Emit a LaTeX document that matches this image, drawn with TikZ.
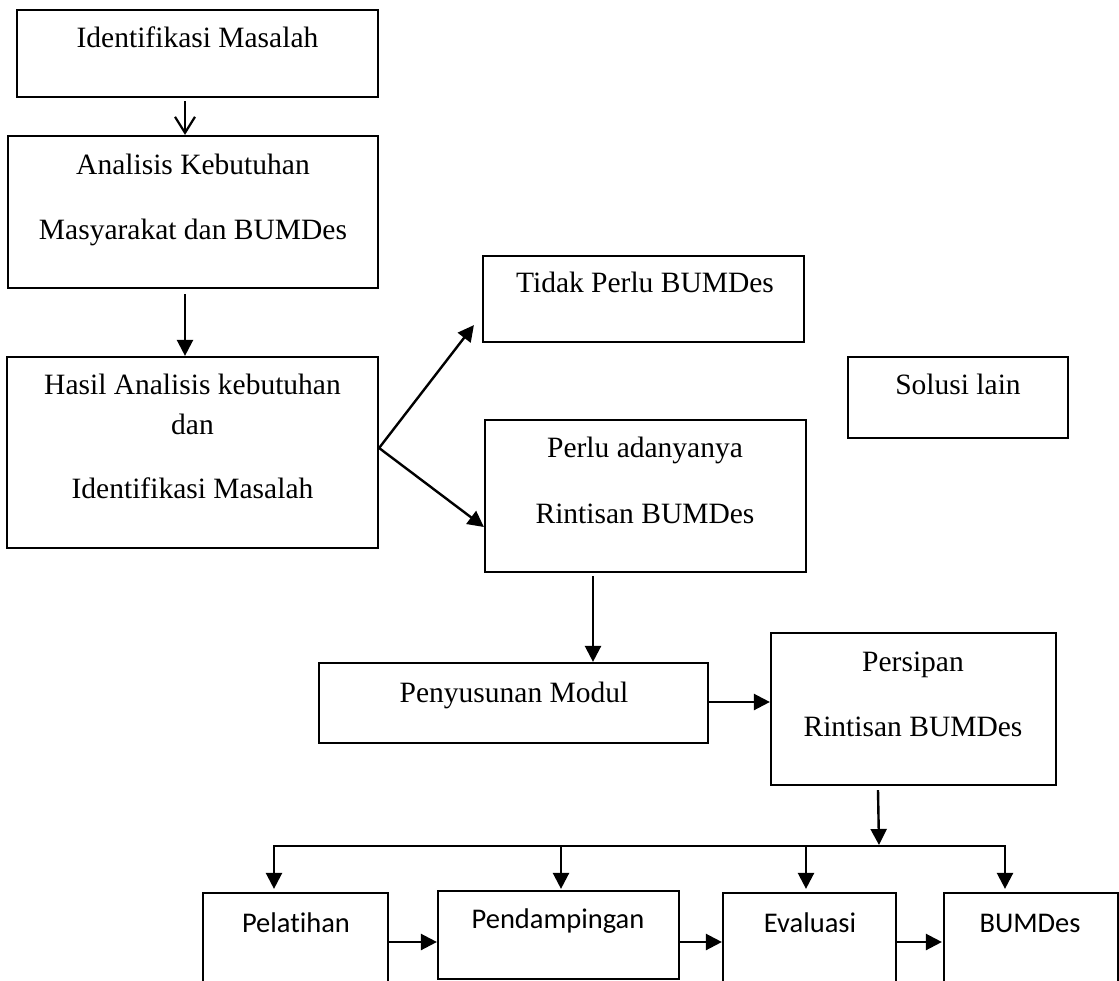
\documentclass[tikz,border=0pt]{standalone}
\usepackage{fontspec}
\setmainfont{Liberation Serif}
\newfontfamily\calfont[Ligatures=NoCommon]{Carlito}
\usetikzlibrary{arrows.meta,calc}
\begin{document}
\begin{tikzpicture}[x=1pt,y=-1pt,
  box/.style={draw,line width=2.2pt,inner sep=0pt,rectangle},
  txt/.style={anchor=base,inner sep=0pt,font=\fontsize{29.5}{35}\selectfont},
  stxt/.style={anchor=base,inner sep=0pt,font=\calfont\fontsize{28.5}{34}\selectfont},
  arr/.style={line width=2.4pt,-{Triangle[length=16pt,width=16pt]}},
  oarr/.style={line width=2.2pt,-{Straight Barb[length=16pt,width=20pt]}}
]
\useasboundingbox (0,0) rectangle (1119,981);
\clip (0,0) rectangle (1119,981);

% boxes
\node[box,minimum width=361pt,minimum height=87pt] (b1) at (197.5,53.5) {};
\node[box,minimum width=370pt,minimum height=152pt] (b2) at (193,212) {};
\node[box,minimum width=371pt,minimum height=191pt] (b3) at (192.5,452.5) {};
\node[box,minimum width=321pt,minimum height=86pt] (tidak) at (643.5,299) {};
\node[box,minimum width=321pt,minimum height=152pt] (perlu) at (645.5,496) {};
\node[box,minimum width=220pt,minimum height=81pt] (solusi) at (958,397.5) {};
\node[box,minimum width=389pt,minimum height=80pt] (penyusun) at (513.5,703) {};
\node[box,minimum width=285pt,minimum height=152pt] (persipan) at (913.5,709) {};
\node[box,minimum width=185pt,minimum height=107pt] (pel) at (295.5,946.5) {};
\node[box,minimum width=241pt,minimum height=88pt] (pend) at (558.5,935) {};
\node[box,minimum width=173pt,minimum height=107pt] (eval) at (809.5,946.5) {};
\node[box,minimum width=174pt,minimum height=107pt] (bumdes) at (1031,946.5) {};

% texts
\node[txt] (t1) at (197.5,48) {Identifikasi Masalah};
\node[txt] (t2a) at (193,175) {Analisis Kebutuhan};
\node[txt] (t2b) at (193,240) {Masyarakat dan BUMDes};
\node[txt] (t3a) at (192.5,395) {Hasil Analisis kebutuhan};
\node[txt] (t3b) at (192.5,434) {dan};
\node[txt] (t3c) at (192.5,498) {Identifikasi Masalah};
\node[txt] (t4) at (645,293) {Tidak Perlu BUMDes};
\node[txt] (t5a) at (645,457) {Perlu adanyanya};
\node[txt] (t5b) at (645,523) {Rintisan BUMDes};
\node[txt] (t6) at (958,395) {Solusi lain};
\node[txt] (t7) at (514,702) {Penyusunan Modul};
\node[txt] (t8a) at (913,671) {Persipan};
\node[txt] (t8b) at (913,736) {Rintisan BUMDes};
\node[stxt] (t9) at (296,932) {Pelatihan};
\node[stxt] (t10) at (558,928) {Pendampingan};
\node[stxt] (t11) at (810,932) {Evaluasi};
\node[stxt] (t12) at (1030,932) {BUMDes};

% connectors
\draw[oarr] ($(b1.south)+(-12.5,3)$) -- ($(b2.north)+(-8,0)$);
\draw[arr] ($(b2.south)+(-8,5)$) -- ($(b3.north)+(-7.5,0)$);
\coordinate (apex) at ($(b3.east)+(0,-4.5)$);
\draw[arr] (apex) -- ($(tidak.south west)+(-8,-18)$);
\draw[arr] (apex) -- ($(perlu.west)+(0,31)$);
\draw[arr] ($(perlu.south)+(-52.5,3)$) -- ($(penyusun.north)+(79.5,0)$);
\draw[arr] ($(penyusun.east)+(0,-1)$) -- ($(persipan.west)+(0,-7)$);

\coordinate (busL) at (274,846);
\coordinate (busR) at (1005,846);
\draw[arr] ($(persipan.south)+(-35.5,4)$) -- (879,845);
\draw[arr] (busR) -| ($(pel.north)+(-21.5,-3)$);
\draw[arr] (busL) -| ($(bumdes.north)+(-26,-3)$);
\coordinate (pendTop) at ($(pend.north)+(2.5,-1)$);
\coordinate (evalTop) at ($(eval.north)+(-3.5,-3)$);
\draw[arr] (pendTop |- busL) -- (pendTop);
\draw[arr] (evalTop |- busL) -- (evalTop);

\draw[arr] ($(pel.east)+(0,-4.5)$) -- ($(pend.west)+(0,7)$);
\draw[arr] ($(pend.east)+(0,7)$) -- ($(eval.west)+(0,-4.5)$);
\draw[arr] ($(eval.east)+(0,-4.5)$) -- ($(bumdes.west)+(-1,-4.5)$);
\end{tikzpicture}
\end{document}
